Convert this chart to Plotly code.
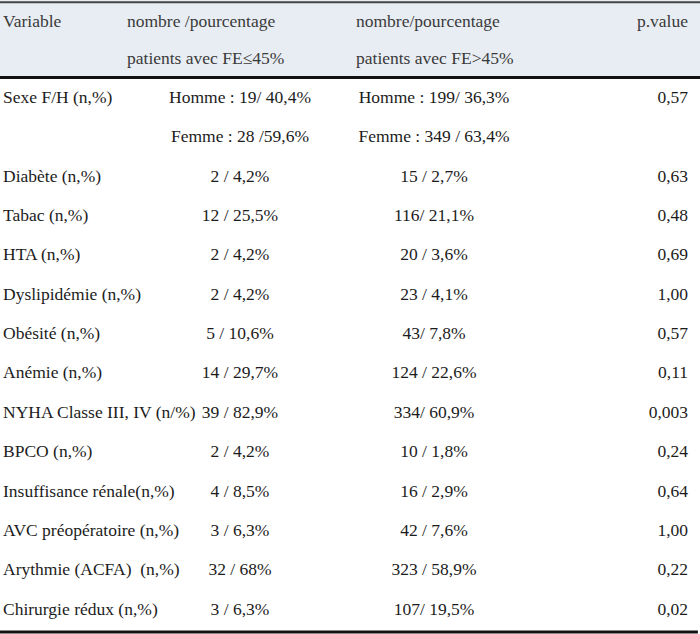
import plotly.graph_objects as go

# ---- table content ----
header_line1 = ["Variable", "nombre /pourcentage", "nombre/pourcentage", "p.value"]
header_line2 = ["", "patients avec FE≤45%", "patients avec FE>45%", ""]

variables = [
    "Sexe F/H (n,%)", "", "Diabète (n,%)", "Tabac (n,%)", "HTA (n,%)",
    "Dyslipidémie (n,%)", "Obésité (n,%)", "Anémie (n,%)",
    "NYHA Classe III, IV (n/%)", "BPCO (n,%)", "Insuffisance rénale(n,%)",
    "AVC préopératoire (n,%)", "Arythmie (ACFA)  (n,%)", "Chirurgie rédux (n,%)",
]
fe_le45 = [
    "Homme : 19/ 40,4%", "Femme : 28 /59,6%", "2 / 4,2%", "12 / 25,5%", "2 / 4,2%",
    "2 / 4,2%", "5 / 10,6%", "14 / 29,7%", "39 / 82,9%", "2 / 4,2%",
    "4 / 8,5%", "3 / 6,3%", "32 / 68%", "3 / 6,3%",
]
fe_gt45 = [
    "Homme : 199/ 36,3%", "Femme : 349 / 63,4%", "15 / 2,7%", "116/ 21,1%", "20 / 3,6%",
    "23 / 4,1%", "43/ 7,8%", "124 / 22,6%", "334/ 60,9%", "10 / 1,8%",
    "16 / 2,9%", "42 / 7,6%", "323 / 58,9%", "107/ 19,5%",
]
p_values = [
    "0,57", "", "0,63", "0,48", "0,69", "1,00", "0,57", "0,11", "0,003",
    "0,24", "0,64", "1,00", "0,22", "0,02",
]

# ---- layout constants ----
W, H = 700, 634
FONT = "Liberation Serif, Times New Roman, serif"
BODY_SIZE = 17.5
HEAD_SIZE = 17.5
BODY_COLOR = "#1c1c1c"
HEAD_COLOR = "#3a3a3a"
HEAD_BG = "#e8edf3"

n = len(variables)
rows = list(range(n))
head_rows = [-1.93, -0.98]

COL_VAR_X = 3
COL_LE_X = 240
COL_GT_X = 434
COL_HEAD_LE_X = 127
COL_HEAD_GT_X = 356
COL_P_X = 688

fig = go.Figure()

def text_trace(xs, ys, texts, pos, size, color):
    fig.add_trace(go.Scatter(
        x=xs, y=ys, text=texts, mode="text", textposition=pos,
        textfont=dict(family=FONT, size=size, color=color),
        hoverinfo="skip", showlegend=False, cliponaxis=False,
    ))

# header
for line, r in zip([header_line1, header_line2], head_rows):
    text_trace([COL_VAR_X], [r], [line[0]], "middle right", HEAD_SIZE, HEAD_COLOR)
    text_trace([COL_HEAD_LE_X], [r], [line[1]], "middle right", HEAD_SIZE, HEAD_COLOR)
    text_trace([COL_HEAD_GT_X], [r], [line[2]], "middle right", HEAD_SIZE, HEAD_COLOR)
    text_trace([COL_P_X], [r], [line[3]], "middle left", HEAD_SIZE, HEAD_COLOR)

# body
text_trace([COL_VAR_X] * n, rows, variables, "middle right", BODY_SIZE, BODY_COLOR)
text_trace([COL_LE_X] * n, rows, fe_le45, "middle center", BODY_SIZE, BODY_COLOR)
text_trace([COL_GT_X] * n, rows, fe_gt45, "middle center", BODY_SIZE, BODY_COLOR)
text_trace([COL_P_X] * n, rows, p_values, "middle left", BODY_SIZE, BODY_COLOR)

# rules and header band (row units on y)
y_top, y_bottom = -2.50, 13.60
shapes = [
    dict(type="rect", xref="paper", yref="y", x0=0, x1=1, y0=y_top, y1=-0.53,
         fillcolor=HEAD_BG, line=dict(width=0), layer="below"),
    dict(type="line", xref="paper", yref="y", x0=0, x1=1, y0=-2.44, y1=-2.44,
         line=dict(color="#444444", width=2)),
    dict(type="line", xref="paper", yref="y", x0=0, x1=1, y0=-0.53, y1=-0.53,
         line=dict(color="#111111", width=3)),
    dict(type="line", xref="paper", yref="y", x0=0, x1=0.997, y0=13.55, y1=13.55,
         line=dict(color="#111111", width=3)),
]

fig.update_layout(
    width=W, height=H,
    margin=dict(l=0, r=0, t=0, b=0),
    paper_bgcolor="white", plot_bgcolor="white",
    xaxis=dict(range=[0, W], visible=False, fixedrange=True),
    yaxis=dict(range=[y_bottom, y_top], visible=False, fixedrange=True),
    shapes=shapes,
)

fig.write_html(
    "out.html",
    config={"displayModeBar": False},
    post_script="document.body.style.margin='0';document.body.style.overflow='hidden';",
)
